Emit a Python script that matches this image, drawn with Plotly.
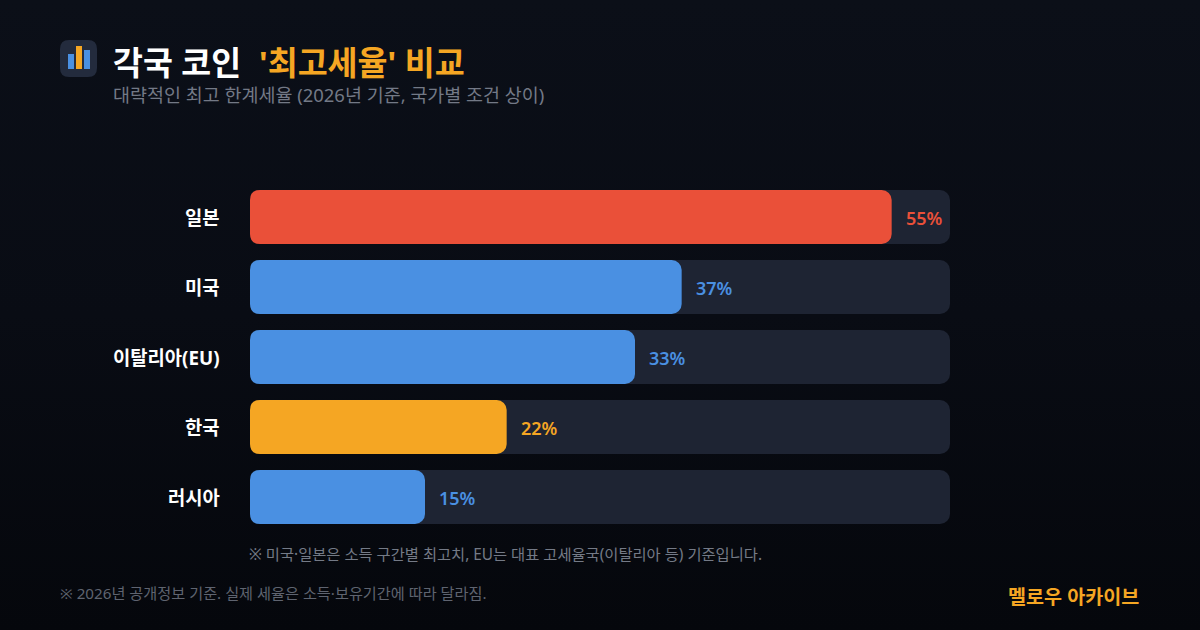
import base64
import plotly.graph_objects as go

# Chart data
countries = ["일본", "미국", "이탈리아(EU)", "한국", "러시아"]
rates = [55, 37, 33, 22, 15]
rate_labels = ["55%", "37%", "33%", "22%", "15%"]
track_max = 60

# Palette
RED = "#EA5039"
BLUE = "#4A90E2"
AMBER = "#F5A623"
TRACK = "#1E2433"
bar_colors = [RED, BLUE, BLUE, AMBER, BLUE]
BG_TOP, BG_MID, BG_BOTTOM = (11, 15, 24), (9, 12, 20), (5, 7, 12)

W, H = 1200, 630
L, R, T, B = 250, 250, 182, 98
RADIUS = 10


def fx(x):
    return (x - L) / (W - L - R)


def fy(y):
    return (H - B - y) / (H - T - B)


def backdrop_at(y):
    """Colour of the vertical backdrop gradient at pixel row y."""
    t = y / H
    a, b, k = (BG_TOP, BG_MID, t * 2) if t < 0.5 else (BG_MID, BG_BOTTOM, t * 2 - 1)
    return "rgb({},{},{})".format(*[round(p + (q - p) * k) for p, q in zip(a, b)])


def rounded_rect(x0, y0, x1, y1, r):
    a, b, c, d = fx(x0), fy(y0), fx(x1), fy(y1)
    rx = r / (W - L - R)
    ry = r / (H - T - B)
    return (
        f"M{a + rx},{b} L{c - rx},{b} Q{c},{b} {c},{b - ry} L{c},{d + ry} Q{c},{d} {c - rx},{d} "
        f"L{a + rx},{d} Q{a},{d} {a},{d + ry} L{a},{b - ry} Q{a},{b} {a + rx},{b} Z"
    )


def corner_notch(x, y, sx, sy, r):
    """Concave wedge that trims one square bar corner to a round one."""
    ax, ay = fx(x), fy(y)
    bx, by = fx(x + sx * r), fy(y + sy * r)
    return f"M{ax},{ay} L{bx},{ay} Q{ax},{ay} {ax},{by} Z"


fig = go.Figure()
fig.add_bar(
    y=countries, x=[track_max] * len(countries), orientation="h",
    marker=dict(color=TRACK, cornerradius=RADIUS, line_width=0), hoverinfo="skip",
)
# The value bars live on their own overlaid axes so each keeps its rounded end
fig.add_bar(
    y=countries, x=rates, orientation="h", xaxis="x2", yaxis="y2",
    marker=dict(color=bar_colors, cornerradius=RADIUS, line_width=0),
)

LATIN_KR = "Noto Sans, Noto Sans CJK KR"
annotations = []


def text(x, y, s, size, color, weight=400, anchor="left"):
    annotations.append(dict(
        xref="paper", yref="paper",
        x=fx(x), y=fy(y), text=s, showarrow=False,
        xanchor=anchor, yanchor="middle", align=anchor,
        font=dict(family=LATIN_KR, size=size, color=color, weight=weight),
    ))


for name, value, label, color in zip(countries, rates, rate_labels, bar_colors):
    # Row name, right-aligned against the bars
    annotations.append(dict(
        xref="paper", yref="y", x=fx(222), y=name, text=name, showarrow=False,
        xanchor="right", yanchor="middle", yshift=-1,
        font=dict(family=LATIN_KR, size=18.8, color="#FFFFFF", weight=700),
    ))
    # Value label just past the end of the bar
    annotations.append(dict(
        xref="x", yref="y", x=value, y=name, text=label, showarrow=False,
        xanchor="left", yanchor="middle", xshift=12, yshift=-1,
        font=dict(family=LATIN_KR, size=18, color=color, weight=600),
    ))

text(111, 62, "각국 코인", 32.5, "#FFFFFF", 700)
text(257, 62, "'최고세율' 비교", 32.6, AMBER, 700)
text(111, 95, "대략적인 최고 한계세율 (2026년 기준, 국가별 조건 상이)", 18.47, "#737986")
text(247, 554, "※ 미국·일본은 소득 구간별 최고치, EU는 대표 고세율국(이탈리아 등) 기준입니다.", 15.33, "#747A86")
text(58, 593, "※ 2026년 공개정보 기준. 실제 세율은 소득·보유기간에 따라 달라짐.", 15.2, "#5F6470")
text(1141, 596, "멜로우 아카이브", 19.6, AMBER, 700, "right")

# Logo tile and its three mini bars
shapes = [
    dict(type="path", xref="paper", yref="paper", path=rounded_rect(60, 40, 97, 77, 9),
         fillcolor="#232B3D", line_width=0, layer="below"),
    dict(type="rect", xref="paper", yref="paper", x0=fx(68), x1=fx(74), y0=fy(69), y1=fy(54),
         fillcolor=BLUE, line_width=0),
    dict(type="rect", xref="paper", yref="paper", x0=fx(76), x1=fx(82), y0=fy(69), y1=fy(46),
         fillcolor=AMBER, line_width=0),
    dict(type="rect", xref="paper", yref="paper", x0=fx(84), x1=fx(90), y0=fy(69), y1=fy(50),
         fillcolor=BLUE, line_width=0),
]

# Round the left end of every row
ROW_PITCH = (H - T - B) / len(countries)
BAR_HEIGHT = 54
for i in range(len(countries)):
    top = T + 8 + i * ROW_PITCH
    bottom = top + BAR_HEIGHT
    shapes.append(dict(type="path", xref="paper", yref="paper",
                       path=corner_notch(L, top, 1, 1, RADIUS),
                       fillcolor=backdrop_at(top), line_width=0, layer="above"))
    shapes.append(dict(type="path", xref="paper", yref="paper",
                       path=corner_notch(L, bottom, 1, -1, RADIUS),
                       fillcolor=backdrop_at(bottom), line_width=0, layer="above"))

stops = [BG_TOP, BG_MID, BG_BOTTOM]
svg = (
    f'<svg xmlns="http://www.w3.org/2000/svg" width="{W}" height="{H}">'
    '<defs><linearGradient id="g" x1="0" y1="0" x2="0" y2="1">'
    + "".join(f'<stop offset="{i / 2}" stop-color="rgb{c}"/>' for i, c in enumerate(stops)) +
    '</linearGradient></defs>'
    f'<rect width="{W}" height="{H}" fill="url(#g)"/></svg>'
)
backdrop = "data:image/svg+xml;base64," + base64.b64encode(svg.encode()).decode()

y_common = dict(autorange="reversed", showgrid=False, zeroline=False, showline=False,
                fixedrange=True, categoryorder="array", categoryarray=countries)

fig.update_layout(
    width=W, height=H, autosize=False,
    margin=dict(l=L, r=R, t=T, b=B, pad=0),
    paper_bgcolor="#090C14", plot_bgcolor="rgba(0,0,0,0)",
    barmode="overlay", bargap=16 / 70, showlegend=False,
    annotations=annotations, shapes=shapes,
    images=[dict(source=backdrop, xref="paper", yref="paper", x=fx(0), y=fy(0),
                 sizex=W / (W - L - R), sizey=H / (H - T - B),
                 xanchor="left", yanchor="top", sizing="stretch", layer="below")],
    xaxis=dict(range=[0, track_max], visible=False, fixedrange=True),
    xaxis2=dict(range=[0, track_max], visible=False, fixedrange=True,
                overlaying="x", matches="x"),
    yaxis=dict(ticks="", showticklabels=False, **y_common),
    yaxis2=dict(visible=False, overlaying="y", **y_common),
)

fig.write_html("out.html", config={"displayModeBar": False})
